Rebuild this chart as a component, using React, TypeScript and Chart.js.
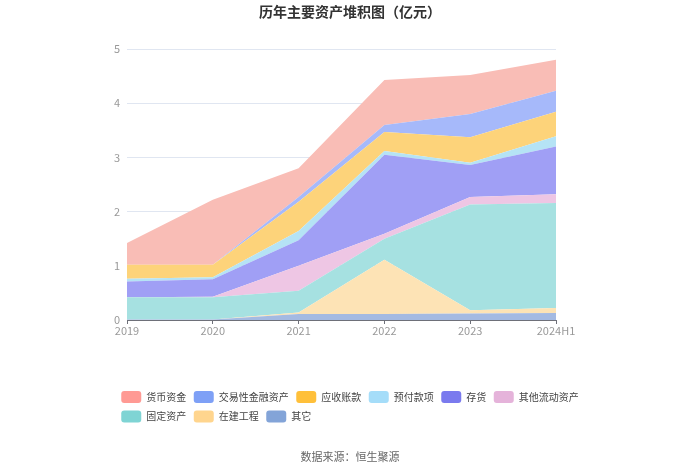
import React, { useEffect, useRef } from 'react';
import { Chart, registerables } from 'chart.js';

Chart.register(...registerables);

const FONT = '"Noto Sans CJK SC", "Noto Sans", sans-serif';

// x-axis categories
const categories = ['2019', '2020', '2021', '2022', '2023', '2024H1'];

// series values (亿元), bottom of the stack first
const other = [0.01, 0.01, 0.11, 0.11, 0.12, 0.13]; // 其它
const construction = [0, 0, 0.03, 1.0, 0.06, 0.09]; // 在建工程
const fixedAssets = [0.41, 0.41, 0.4, 0.39, 1.95, 1.94]; // 固定资产
const otherCurrent = [0, 0.01, 0.46, 0.09, 0.14, 0.16]; // 其他流动资产
const inventory = [0.29, 0.32, 0.47, 1.46, 0.59, 0.88]; // 存货
const prepayments = [0.05, 0.04, 0.17, 0.07, 0.04, 0.19]; // 预付款项
const receivables = [0.26, 0.23, 0.54, 0.35, 0.47, 0.45]; // 应收账款
const tradingAssets = [0, 0, 0.09, 0.13, 0.43, 0.39]; // 交易性金融资产
const cash = [0.4, 1.2, 0.53, 0.83, 0.72, 0.57]; // 货币资金

const seriesNames = ['其它', '在建工程', '固定资产', '其他流动资产', '存货', '预付款项', '应收账款', '交易性金融资产', '货币资金'];
const seriesValues = [other, construction, fixedAssets, otherCurrent, inventory, prepayments, receivables, tradingAssets, cash];
const areaColors = ['#A4BAE2', '#FDE3B5', '#A6E1E1', '#EEC6E4', '#A09FF5', '#B5E3F5', '#FDD37A', '#A6B9FA', '#F9BDB6'];
const legendColors = ['#83A4D8', '#FFD58E', '#7FD4D4', '#E5B3DA', '#7A7AEE', '#A5DDF9', '#FFC03A', '#7EA0F6', '#FF9A94'];

const legendRowAlign = {
  id: 'legendRowAlign',
  afterLayout(chart: any) {
    const lg: any = chart.legend;
    if (lg && lg.lineWidths && lg.lineWidths.length > 1) {
      const w0 = lg.lineWidths[0];
      for (let i = 1; i < lg.lineWidths.length; i++) lg.lineWidths[i] = w0;
    }
  },
};

export default function App() {
  const ref = useRef<HTMLCanvasElement | null>(null);

  useEffect(() => {
    if (!ref.current) return;
    const datasets = seriesNames.map((name, i) => ({
      label: name,
      data: seriesValues[i],
      backgroundColor: areaColors[i],
      borderColor: areaColors[i],
      borderWidth: 0,
      pointRadius: 0,
      pointHoverRadius: 0,
      tension: 0,
      fill: i === 0 ? 'origin' : '-1',
    }));

    const chart = new Chart(ref.current, {
      type: 'line',
      data: { labels: categories, datasets },
      plugins: [legendRowAlign],
      options: {
        animation: false,
        responsive: true,
        maintainAspectRatio: false,
        layout: { padding: { left: 90, right: 90, top: 0, bottom: 0 } },
        interaction: { mode: 'index', intersect: false },
        scales: {
          x: {
            type: 'category',
            offset: false,
            grid: {
              display: true,
              drawOnChartArea: false,
              drawTicks: true,
              tickLength: 4,
              color: '#6E7079',
            },
            border: { display: true, color: '#6E7079' },
            ticks: {
              color: '#999',
              font: { family: FONT, size: 11 },
              padding: 0,
              maxRotation: 0,
              autoSkip: false,
            },
          },
          y: {
            stacked: true,
            min: 0,
            max: 5,
            grid: { color: '#E0E6F1', drawTicks: false },
            border: { display: false },
            ticks: {
              stepSize: 1,
              color: '#999',
              font: { family: FONT, size: 11 },
              padding: 7,
            },
            afterFit: (s: any) => {
              s.width = 37;
            },
          },
          yR: {
            type: 'linear',
            position: 'right',
            display: true,
            grid: { display: false },
            border: { display: false },
            ticks: { display: false },
            afterFit: (s: any) => {
              s.width = 54;
            },
          },
        },
        plugins: {
          title: {
            display: true,
            text: '历年主要资产堆积图（亿元）',
            color: '#333',
            font: { family: FONT, size: 14, weight: 'bold' },
            padding: { top: 3, bottom: 29.2 },
          },
          subtitle: {
            display: true,
            text: '数据来源：恒生聚源',
            position: 'bottom',
            color: '#666',
            font: { family: FONT, size: 11, weight: 'normal' },
            padding: { top: 17.9, bottom: 10.4 },
          },
          legend: {
            display: true,
            position: 'bottom',
            reverse: true,
            align: 'center',
            title: {
              display: true,
              text: ' ',
              font: { family: FONT, size: 10 },
              padding: { top: 34.3, bottom: 0 },
            },
            labels: {
              boxWidth: 20,
              boxHeight: 12,
              padding: 7.5,
              color: '#444',
              font: { family: FONT, size: 10 },
              useBorderRadius: true,
              borderRadius: 3,
              generateLabels: (c: any) => {
                const items = Chart.defaults.plugins.legend.labels.generateLabels(c);
                return items.map((it: any) => ({
                  ...it,
                  fillStyle: legendColors[it.datasetIndex],
                  strokeStyle: legendColors[it.datasetIndex],
                  lineWidth: 0,
                }));
              },
            },
          },
          tooltip: { enabled: false },
        },
      },
    } as any);

    return () => chart.destroy();
  }, []);

  return (
    <div style={{ position: 'fixed', left: 0, top: 0, width: 700, height: 474, background: '#fff' }}>
      <canvas ref={ref} />
    </div>
  );
}
